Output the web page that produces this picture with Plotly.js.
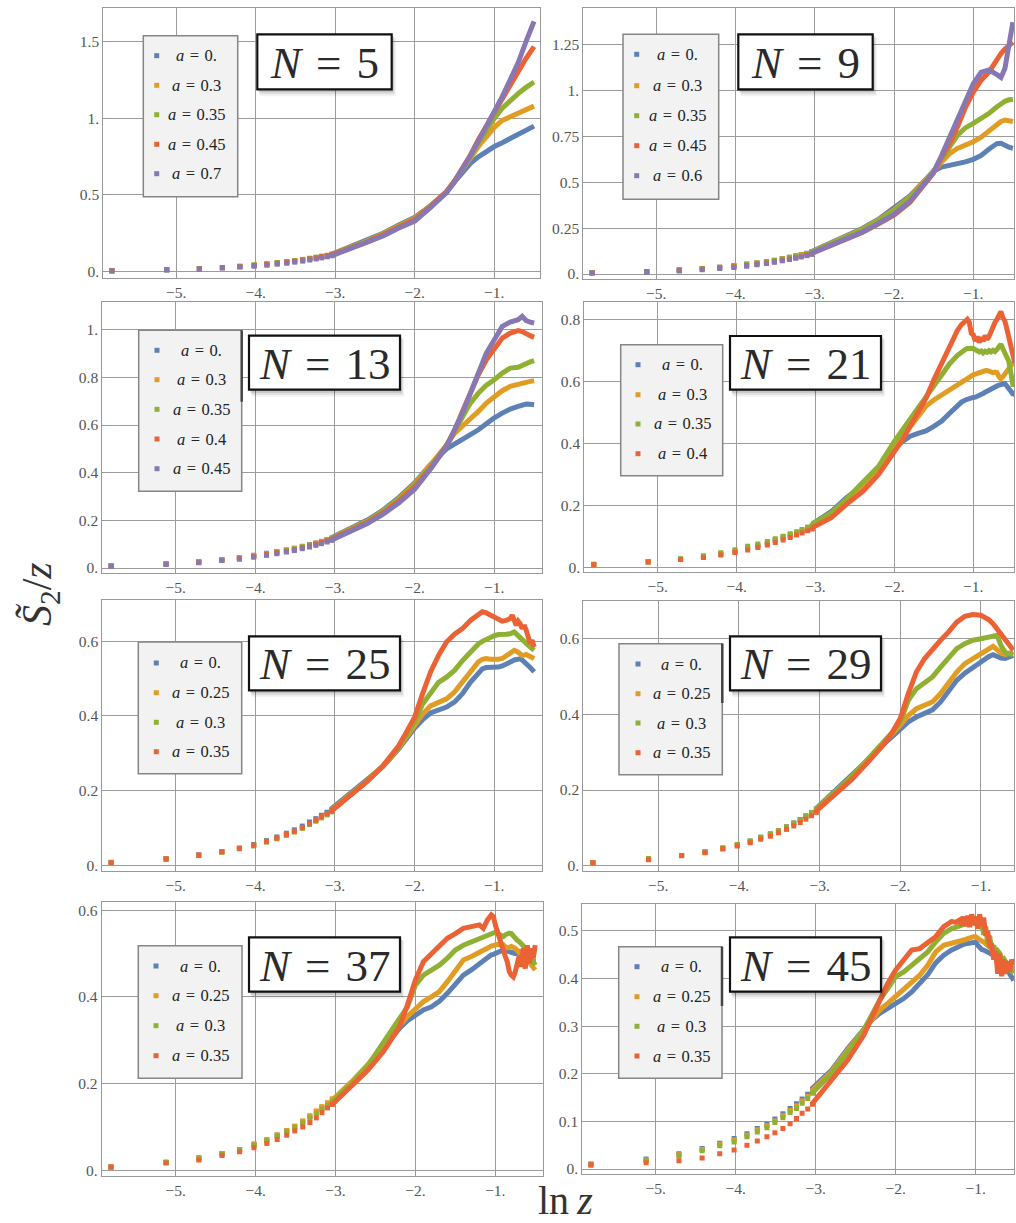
<!DOCTYPE html>
<html>
<head>
<meta charset="utf-8">
<script src="https://cdn.plot.ly/plotly-3.0.1.min.js"></script>
<style>html,body{margin:0;padding:0;background:#fff;}#chart{width:1016px;height:1223px;}</style>
</head>
<body>
<div id="chart"></div>
<script>
// ---------- shared data ----------
const LNZ_SPARSE = [-5.81, -5.12, -4.71, -4.42, -4.20, -4.02, -3.86, -3.73, -3.61, -3.51, -3.41, -3.32, -3.24, -3.17, -3.10, -3.04];
const X_TICKS = [-5, -4, -3, -2, -1];
const X_TICKTEXT = ['\u22125.', '\u22124.', '\u22123.', '\u22122.', '\u22121.'];
const COLORS = ['#5E81B5', '#E19C24', '#8FB032', '#EB6235', '#8778B3'];

// ---------- N = 5 ----------
const N5_A = ['0.', '0.3', '0.35', '0.45', '0.7'];
const N5_YT = [0, 0.5, 1, 1.5];
const N5_YTT = ['0.', '0.5', '1.', '1.5'];
const N5_S0 = [0.006, 0.012, 0.02, 0.027, 0.034, 0.042, 0.049, 0.056, 0.063, 0.07, 0.078, 0.085, 0.092, 0.099, 0.106, 0.113];
const N5_S1 = [0.006, 0.013, 0.021, 0.028, 0.036, 0.044, 0.051, 0.058, 0.065, 0.072, 0.08, 0.087, 0.094, 0.1, 0.107, 0.113];
const N5_S2 = [0.006, 0.013, 0.021, 0.028, 0.036, 0.044, 0.052, 0.059, 0.066, 0.073, 0.08, 0.087, 0.094, 0.1, 0.106, 0.112];
const N5_S3 = [0.006, 0.014, 0.02, 0.026, 0.033, 0.041, 0.048, 0.055, 0.062, 0.069, 0.076, 0.083, 0.09, 0.097, 0.104, 0.11];
const N5_S4 = [0.005, 0.011, 0.018, 0.024, 0.03, 0.036, 0.042, 0.049, 0.055, 0.062, 0.069, 0.076, 0.083, 0.09, 0.097, 0.104];
const N5_X = [-3.04, -2.8, -2.6, -2.4, -2.2, -2.0, -1.8, -1.6, -1.5, -1.4, -1.3, -1.2, -1.1, -1.0, -0.9, -0.8, -0.7, -0.6, -0.5];
const N5_D0 = [0.115, 0.163, 0.202, 0.25, 0.305, 0.355, 0.43, 0.52, 0.585, 0.645, 0.705, 0.748, 0.785, 0.815, 0.84, 0.866, 0.89, 0.92, 0.948];
const N5_D1 = [0.114, 0.16, 0.2, 0.247, 0.302, 0.35, 0.43, 0.522, 0.59, 0.66, 0.74, 0.815, 0.88, 0.94, 0.985, 1.01, 1.035, 1.058, 1.078];
const N5_D2 = [0.113, 0.158, 0.197, 0.244, 0.298, 0.345, 0.428, 0.522, 0.59, 0.665, 0.75, 0.84, 0.925, 0.998, 1.065, 1.118, 1.16, 1.2, 1.235];
const N5_D3 = [0.111, 0.155, 0.193, 0.24, 0.292, 0.34, 0.425, 0.52, 0.59, 0.668, 0.76, 0.86, 0.95, 1.03, 1.12, 1.21, 1.3, 1.39, 1.465];
const N5_D4 = [0.105, 0.15, 0.186, 0.232, 0.284, 0.33, 0.418, 0.515, 0.585, 0.665, 0.755, 0.85, 0.945, 1.035, 1.14, 1.25, 1.36, 1.5, 1.63];

// ---------- N = 9 ----------
const N9_A = ['0.', '0.3', '0.35', '0.45', '0.6'];
const N9_YT = [0, 0.25, 0.5, 0.75, 1, 1.25];
const N9_YTT = ['0.', '0.25', '0.5', '0.75', '1.', '1.25'];
const N9_S0 = [0.007, 0.013, 0.022, 0.029, 0.037, 0.045, 0.053, 0.06, 0.068, 0.075, 0.084, 0.092, 0.099, 0.106, 0.113, 0.121];
const N9_S1 = [0.007, 0.014, 0.022, 0.029, 0.037, 0.045, 0.053, 0.06, 0.067, 0.074, 0.083, 0.091, 0.098, 0.105, 0.112, 0.119];
const N9_S2 = [0.007, 0.013, 0.024, 0.03, 0.037, 0.046, 0.054, 0.06, 0.067, 0.074, 0.082, 0.09, 0.097, 0.104, 0.111, 0.118];
const N9_S3 = [0.006, 0.014, 0.02, 0.027, 0.034, 0.04, 0.047, 0.053, 0.06, 0.067, 0.075, 0.082, 0.089, 0.096, 0.103, 0.11];
const N9_S4 = [0.005, 0.01, 0.017, 0.024, 0.03, 0.036, 0.043, 0.05, 0.057, 0.064, 0.072, 0.079, 0.086, 0.093, 0.1, 0.107];
const N9_X = [-3.04, -2.8, -2.6, -2.4, -2.2, -2.0, -1.8, -1.6, -1.5, -1.4, -1.3, -1.2, -1.1, -1.0, -0.9, -0.8, -0.7, -0.65, -0.6, -0.55, -0.5];
const N9_D0 = [0.122, 0.17, 0.207, 0.248, 0.297, 0.357, 0.425, 0.515, 0.56, 0.582, 0.59, 0.598, 0.61, 0.624, 0.645, 0.68, 0.71, 0.712, 0.7, 0.69, 0.684];
const N9_D1 = [0.12, 0.166, 0.203, 0.244, 0.293, 0.35, 0.42, 0.51, 0.56, 0.61, 0.655, 0.683, 0.7, 0.72, 0.745, 0.78, 0.815, 0.83, 0.838, 0.835, 0.83];
const N9_D2 = [0.118, 0.163, 0.2, 0.24, 0.289, 0.345, 0.415, 0.505, 0.56, 0.62, 0.69, 0.755, 0.795, 0.82, 0.845, 0.875, 0.91, 0.928, 0.94, 0.948, 0.95];
const N9_D3 = [0.112, 0.153, 0.187, 0.226, 0.272, 0.32, 0.39, 0.49, 0.55, 0.635, 0.71, 0.8, 0.905, 0.99, 1.055, 1.1, 1.17, 1.2, 1.225, 1.245, 1.262];
const N9_D4 = [0.114, 0.156, 0.19, 0.229, 0.275, 0.325, 0.395, 0.495, 0.555, 0.645, 0.745, 0.845, 0.945, 1.035, 1.098, 1.11, 1.085, 1.07, 1.12, 1.25, 1.37];

// ---------- N = 13 ----------
const N13_A = ['0.', '0.3', '0.35', '0.4', '0.45'];
const N13_YT = [0, 0.2, 0.4, 0.6, 0.8, 1];
const N13_YTT = ['0.', '0.2', '0.4', '0.6', '0.8', '1.'];
const N13_S0 = [0.008, 0.018, 0.026, 0.035, 0.044, 0.053, 0.062, 0.069, 0.076, 0.083, 0.091, 0.098, 0.105, 0.112, 0.119, 0.126];
const N13_S1 = [0.008, 0.018, 0.026, 0.035, 0.043, 0.052, 0.06, 0.068, 0.075, 0.082, 0.09, 0.097, 0.104, 0.111, 0.118, 0.125];
const N13_S2 = [0.01, 0.017, 0.025, 0.034, 0.042, 0.05, 0.059, 0.066, 0.073, 0.08, 0.088, 0.095, 0.102, 0.109, 0.116, 0.123];
const N13_S3 = [0.007, 0.016, 0.024, 0.033, 0.04, 0.048, 0.057, 0.064, 0.071, 0.078, 0.086, 0.093, 0.1, 0.107, 0.114, 0.12];
const N13_S4 = [0.006, 0.015, 0.022, 0.031, 0.037, 0.045, 0.053, 0.06, 0.067, 0.073, 0.081, 0.088, 0.095, 0.102, 0.109, 0.116];
const N13_X = [-3.04, -2.8, -2.6, -2.4, -2.2, -2.0, -1.8, -1.6, -1.5, -1.4, -1.3, -1.2, -1.1, -1.0, -0.9, -0.8, -0.7, -0.65, -0.6, -0.55, -0.5];
const N13_D0 = [0.128, 0.168, 0.2, 0.242, 0.295, 0.357, 0.434, 0.5, 0.518, 0.538, 0.56, 0.58, 0.608, 0.63, 0.65, 0.667, 0.678, 0.684, 0.688, 0.687, 0.685];
const N13_D1 = [0.126, 0.165, 0.196, 0.238, 0.29, 0.352, 0.43, 0.515, 0.565, 0.594, 0.622, 0.657, 0.692, 0.72, 0.744, 0.762, 0.772, 0.776, 0.78, 0.783, 0.786];
const N13_D2 = [0.125, 0.163, 0.194, 0.236, 0.287, 0.348, 0.426, 0.515, 0.572, 0.636, 0.692, 0.734, 0.767, 0.79, 0.818, 0.839, 0.842, 0.85, 0.86, 0.865, 0.87];
const N13_D3 = [0.122, 0.16, 0.19, 0.23, 0.28, 0.34, 0.42, 0.512, 0.575, 0.657, 0.734, 0.811, 0.874, 0.923, 0.965, 0.986, 0.996, 0.992, 0.986, 0.975, 0.968];
const N13_D4 = [0.118, 0.155, 0.186, 0.225, 0.273, 0.33, 0.415, 0.51, 0.575, 0.65, 0.734, 0.818, 0.902, 0.958, 1.014, 1.032, 1.042, 1.056, 1.038, 1.032, 1.028];

// ---------- N = 21 ----------
const N21_A = ['0.', '0.3', '0.35', '0.4'];
const N21_YT = [0, 0.2, 0.4, 0.6, 0.8];
const N21_YTT = ['0.', '0.2', '0.4', '0.6', '0.8'];
const N21_S0 = [0.01, 0.018, 0.026, 0.034, 0.043, 0.052, 0.062, 0.07, 0.079, 0.088, 0.097, 0.104, 0.111, 0.118, 0.125, 0.132];
const N21_S1 = [0.009, 0.017, 0.025, 0.034, 0.043, 0.051, 0.06, 0.068, 0.077, 0.086, 0.095, 0.102, 0.109, 0.116, 0.123, 0.13];
const N21_S2 = [0.009, 0.018, 0.028, 0.037, 0.047, 0.057, 0.068, 0.075, 0.083, 0.092, 0.1, 0.108, 0.115, 0.122, 0.13, 0.136];
const N21_S3 = [0.008, 0.017, 0.025, 0.032, 0.04, 0.048, 0.056, 0.064, 0.072, 0.08, 0.088, 0.096, 0.104, 0.111, 0.118, 0.124];
const N21_X = [-3.04, -2.8, -2.6, -2.4, -2.2, -2.0, -1.9, -1.8, -1.7, -1.6, -1.5, -1.4, -1.3, -1.2, -1.15, -1.1, -1.075, -1.05, -1.025, -1.0, -0.975, -0.95, -0.925, -0.9, -0.875, -0.85, -0.825, -0.8, -0.775, -0.75, -0.725, -0.7, -0.675, -0.65, -0.625, -0.6, -0.575, -0.55, -0.525, -0.5, -0.475];
const N21_D0 = [0.14, 0.18, 0.226, 0.262, 0.318, 0.385, 0.405, 0.423, 0.432, 0.44, 0.455, 0.472, 0.497, 0.523, 0.533, 0.54, 0.543, 0.545, 0.546, 0.548, 0.549, 0.551, 0.554, 0.557, 0.561, 0.565, 0.569, 0.573, 0.577, 0.581, 0.584, 0.585, 0.588, 0.59, 0.595, 0.593, 0.585, 0.575, 0.565, 0.56, 0.558];
const N21_D1 = [0.136, 0.172, 0.218, 0.258, 0.315, 0.39, 0.42, 0.455, 0.49, 0.52, 0.54, 0.556, 0.572, 0.59, 0.6, 0.608, 0.612, 0.616, 0.619, 0.621, 0.623, 0.626, 0.628, 0.63, 0.632, 0.634, 0.635, 0.632, 0.63, 0.628, 0.63, 0.628, 0.615, 0.608, 0.615, 0.625, 0.632, 0.638, 0.648, 0.658, 0.66];
const N21_D2 = [0.14, 0.176, 0.222, 0.272, 0.326, 0.406, 0.442, 0.48, 0.52, 0.556, 0.592, 0.626, 0.657, 0.684, 0.695, 0.703, 0.706, 0.708, 0.707, 0.706, 0.702, 0.7, 0.695, 0.698, 0.692, 0.697, 0.694, 0.699, 0.695, 0.7, 0.696, 0.703, 0.715, 0.72, 0.705, 0.69, 0.68, 0.665, 0.63, 0.59, 0.59];
const N21_D3 = [0.128, 0.16, 0.205, 0.245, 0.3, 0.37, 0.41, 0.455, 0.5, 0.545, 0.605, 0.66, 0.712, 0.765, 0.783, 0.797, 0.8, 0.79, 0.755, 0.75, 0.73, 0.745, 0.725, 0.742, 0.73, 0.748, 0.735, 0.745, 0.762, 0.775, 0.79, 0.8, 0.815, 0.825, 0.805, 0.795, 0.77, 0.745, 0.72, 0.68, 0.66];

// ---------- N = 25 ----------
const N25_A = ['0.', '0.25', '0.3', '0.35'];
const N25_YT = [0, 0.2, 0.4, 0.6];
const N25_YTT = ['0.', '0.2', '0.4', '0.6'];
const N25_S0 = [0.008, 0.018, 0.028, 0.037, 0.046, 0.056, 0.066, 0.076, 0.086, 0.095, 0.105, 0.116, 0.125, 0.134, 0.142, 0.15];
const N25_S1 = [0.007, 0.017, 0.027, 0.036, 0.045, 0.054, 0.064, 0.073, 0.083, 0.091, 0.101, 0.112, 0.121, 0.13, 0.138, 0.146];
const N25_S2 = [0.007, 0.016, 0.026, 0.035, 0.044, 0.052, 0.062, 0.071, 0.08, 0.089, 0.099, 0.109, 0.118, 0.127, 0.135, 0.143];
const N25_S3 = [0.007, 0.017, 0.027, 0.036, 0.045, 0.054, 0.064, 0.073, 0.083, 0.091, 0.101, 0.112, 0.121, 0.13, 0.138, 0.146];
const N25_X = [-3.04, -2.8, -2.6, -2.4, -2.2, -2.1, -2.0, -1.9, -1.8, -1.7, -1.6, -1.5, -1.4, -1.3, -1.2, -1.15, -1.1, -1.05, -1.0, -0.95, -0.9, -0.85, -0.8, -0.775, -0.75, -0.725, -0.7, -0.675, -0.65, -0.625, -0.6, -0.575, -0.55, -0.525, -0.5];
const N25_D0 = [0.152, 0.194, 0.227, 0.264, 0.312, 0.342, 0.368, 0.39, 0.408, 0.416, 0.424, 0.437, 0.46, 0.49, 0.517, 0.526, 0.53, 0.53, 0.529, 0.531, 0.534, 0.538, 0.544, 0.547, 0.55, 0.552, 0.554, 0.553, 0.55, 0.546, 0.541, 0.536, 0.53, 0.524, 0.518];
const N25_D1 = [0.149, 0.19, 0.226, 0.265, 0.314, 0.345, 0.375, 0.405, 0.427, 0.435, 0.446, 0.464, 0.49, 0.52, 0.545, 0.552, 0.554, 0.552, 0.551, 0.552, 0.554, 0.56, 0.567, 0.572, 0.576, 0.574, 0.571, 0.566, 0.562, 0.563, 0.565, 0.562, 0.558, 0.556, 0.554];
const N25_D2 = [0.147, 0.189, 0.225, 0.265, 0.316, 0.35, 0.384, 0.432, 0.463, 0.49, 0.504, 0.522, 0.548, 0.573, 0.593, 0.6, 0.606, 0.611, 0.615, 0.618, 0.62, 0.619, 0.62, 0.622, 0.625, 0.62, 0.616, 0.61, 0.607, 0.6, 0.594, 0.59, 0.585, 0.58, 0.576];
const N25_D3 = [0.146, 0.188, 0.224, 0.266, 0.32, 0.358, 0.397, 0.46, 0.518, 0.562, 0.598, 0.619, 0.634, 0.656, 0.674, 0.679, 0.676, 0.67, 0.667, 0.661, 0.654, 0.656, 0.661, 0.67, 0.652, 0.643, 0.654, 0.647, 0.634, 0.643, 0.63, 0.612, 0.594, 0.603, 0.585];

// ---------- N = 29 ----------
const N29_A = ['0.', '0.25', '0.3', '0.35'];
const N29_YT = [0, 0.2, 0.4, 0.6];
const N29_YTT = ['0.', '0.2', '0.4', '0.6'];
const N29_S0 = [0.008, 0.018, 0.027, 0.037, 0.047, 0.056, 0.065, 0.075, 0.084, 0.093, 0.103, 0.113, 0.122, 0.132, 0.141, 0.15];
const N29_S1 = [0.008, 0.018, 0.027, 0.036, 0.046, 0.055, 0.064, 0.074, 0.083, 0.092, 0.102, 0.112, 0.121, 0.131, 0.14, 0.149];
const N29_S2 = [0.008, 0.019, 0.027, 0.036, 0.046, 0.056, 0.065, 0.075, 0.084, 0.093, 0.102, 0.112, 0.121, 0.131, 0.14, 0.149];
const N29_S3 = [0.008, 0.016, 0.026, 0.034, 0.044, 0.052, 0.061, 0.07, 0.078, 0.087, 0.096, 0.105, 0.114, 0.123, 0.132, 0.141];
const N29_X = [-3.04, -2.8, -2.6, -2.4, -2.2, -2.1, -2.0, -1.9, -1.8, -1.7, -1.6, -1.5, -1.4, -1.3, -1.2, -1.1, -1.0, -0.9, -0.85, -0.8, -0.75, -0.7, -0.65, -0.6];
const N29_D0 = [0.152, 0.2, 0.236, 0.28, 0.322, 0.342, 0.362, 0.38, 0.393, 0.402, 0.412, 0.433, 0.463, 0.49, 0.509, 0.525, 0.538, 0.553, 0.558, 0.553, 0.549, 0.548, 0.553, 0.556];
const N29_D1 = [0.15, 0.198, 0.235, 0.28, 0.324, 0.347, 0.371, 0.397, 0.415, 0.424, 0.433, 0.455, 0.485, 0.512, 0.534, 0.547, 0.559, 0.574, 0.58, 0.571, 0.562, 0.558, 0.562, 0.565];
const N29_D2 = [0.15, 0.198, 0.236, 0.282, 0.327, 0.352, 0.38, 0.437, 0.468, 0.485, 0.499, 0.525, 0.552, 0.574, 0.587, 0.596, 0.6, 0.603, 0.606, 0.609, 0.582, 0.564, 0.56, 0.558];
const N29_D3 = [0.145, 0.192, 0.228, 0.274, 0.322, 0.352, 0.389, 0.455, 0.512, 0.547, 0.574, 0.596, 0.618, 0.644, 0.659, 0.664, 0.662, 0.65, 0.64, 0.626, 0.613, 0.6, 0.582, 0.57];

// ---------- N = 37 ----------
const N37_A = ['0.', '0.25', '0.3', '0.35'];
const N37_YT = [0, 0.2, 0.4, 0.6];
const N37_YTT = ['0.', '0.2', '0.4', '0.6'];
const N37_S0 = [0.008, 0.018, 0.029, 0.039, 0.048, 0.06, 0.07, 0.081, 0.091, 0.101, 0.112, 0.124, 0.135, 0.145, 0.154, 0.162];
const N37_S1 = [0.008, 0.018, 0.028, 0.039, 0.048, 0.061, 0.071, 0.082, 0.092, 0.102, 0.114, 0.126, 0.137, 0.147, 0.156, 0.165];
const N37_S2 = [0.008, 0.019, 0.027, 0.038, 0.047, 0.058, 0.068, 0.079, 0.089, 0.098, 0.109, 0.12, 0.131, 0.141, 0.15, 0.158];
const N37_S3 = [0.008, 0.017, 0.024, 0.034, 0.043, 0.052, 0.062, 0.071, 0.081, 0.091, 0.1, 0.11, 0.121, 0.133, 0.144, 0.152];
const N37_X = [-3.04, -2.8, -2.6, -2.4, -2.2, -2.1, -2.0, -1.9, -1.8, -1.7, -1.6, -1.5, -1.4, -1.3, -1.2, -1.15, -1.1, -1.05, -1.025, -1.0, -0.975, -0.95, -0.925, -0.9, -0.875, -0.85, -0.825, -0.8, -0.775, -0.75, -0.725, -0.7, -0.675, -0.65, -0.625, -0.6, -0.575, -0.55, -0.525, -0.5];
const N37_D0 = [0.16, 0.2, 0.24, 0.285, 0.327, 0.345, 0.358, 0.37, 0.377, 0.39, 0.408, 0.431, 0.45, 0.462, 0.477, 0.485, 0.493, 0.497, 0.498, 0.5, 0.502, 0.505, 0.507, 0.508, 0.507, 0.506, 0.505, 0.504, 0.502, 0.5, 0.502, 0.504, 0.5, 0.498, 0.495, 0.493, 0.489, 0.485, 0.483, 0.481];
const N37_D1 = [0.162, 0.204, 0.243, 0.29, 0.333, 0.355, 0.373, 0.389, 0.4, 0.412, 0.435, 0.462, 0.485, 0.493, 0.504, 0.508, 0.512, 0.517, 0.519, 0.521, 0.521, 0.52, 0.52, 0.52, 0.516, 0.513, 0.514, 0.516, 0.514, 0.512, 0.506, 0.5, 0.498, 0.496, 0.49, 0.485, 0.479, 0.473, 0.468, 0.462];
const N37_D2 = [0.158, 0.2, 0.24, 0.297, 0.35, 0.377, 0.427, 0.45, 0.462, 0.473, 0.489, 0.508, 0.519, 0.527, 0.535, 0.54, 0.544, 0.547, 0.548, 0.549, 0.546, 0.544, 0.541, 0.539, 0.543, 0.546, 0.547, 0.546, 0.54, 0.535, 0.53, 0.527, 0.523, 0.519, 0.514, 0.508, 0.498, 0.489, 0.48, 0.473];
const N37_D3 = [0.152, 0.196, 0.23, 0.274, 0.331, 0.381, 0.439, 0.481, 0.5, 0.519, 0.535, 0.546, 0.558, 0.562, 0.566, 0.558, 0.577, 0.589, 0.585, 0.566, 0.55, 0.535, 0.519, 0.504, 0.493, 0.481, 0.458, 0.45, 0.446, 0.458, 0.473, 0.496, 0.469, 0.512, 0.465, 0.519, 0.477, 0.512, 0.489, 0.519];

// ---------- N = 45 ----------
const N45_A = ['0.', '0.25', '0.3', '0.35'];
const N45_YT = [0, 0.1, 0.2, 0.3, 0.4, 0.5];
const N45_YTT = ['0.', '0.1', '0.2', '0.3', '0.4', '0.5'];
const N45_S0 = [0.0105, 0.021, 0.032, 0.043, 0.054, 0.064, 0.074, 0.085, 0.094, 0.105, 0.116, 0.127, 0.137, 0.147, 0.157, 0.168];
const N45_S1 = [0.01, 0.019, 0.03, 0.041, 0.052, 0.061, 0.071, 0.082, 0.091, 0.101, 0.112, 0.123, 0.133, 0.143, 0.153, 0.164];
const N45_S2 = [0.008, 0.018, 0.028, 0.0385, 0.049, 0.057, 0.068, 0.078, 0.087, 0.098, 0.108, 0.119, 0.127, 0.138, 0.148, 0.159];
const N45_S3 = [0.009, 0.013, 0.0175, 0.023, 0.032, 0.04, 0.05, 0.059, 0.068, 0.076, 0.085, 0.095, 0.106, 0.117, 0.126, 0.136];
const N45_X = [-3.04, -2.8, -2.6, -2.4, -2.3, -2.2, -2.1, -2.0, -1.9, -1.8, -1.7, -1.6, -1.5, -1.4, -1.3, -1.25, -1.2, -1.175, -1.15, -1.125, -1.1, -1.075, -1.05, -1.025, -1.0, -0.975, -0.95, -0.925, -0.9, -0.875, -0.85, -0.825, -0.8, -0.775, -0.75, -0.725, -0.7, -0.675, -0.65, -0.625, -0.6, -0.575, -0.55, -0.525];
const N45_D0 = [0.17, 0.208, 0.253, 0.295, 0.313, 0.327, 0.337, 0.348, 0.358, 0.372, 0.39, 0.408, 0.433, 0.449, 0.46, 0.465, 0.47, 0.471, 0.472, 0.473, 0.474, 0.475, 0.476, 0.477, 0.477, 0.47, 0.464, 0.461, 0.46, 0.458, 0.456, 0.455, 0.453, 0.451, 0.449, 0.445, 0.44, 0.435, 0.43, 0.425, 0.421, 0.41, 0.4, 0.396];
const N45_D1 = [0.166, 0.205, 0.25, 0.294, 0.316, 0.334, 0.348, 0.362, 0.376, 0.39, 0.407, 0.428, 0.456, 0.47, 0.474, 0.476, 0.477, 0.479, 0.48, 0.482, 0.484, 0.486, 0.487, 0.488, 0.488, 0.484, 0.481, 0.479, 0.477, 0.474, 0.47, 0.466, 0.462, 0.458, 0.454, 0.45, 0.447, 0.443, 0.44, 0.436, 0.432, 0.428, 0.424, 0.42];
const N45_D2 = [0.16, 0.201, 0.246, 0.292, 0.323, 0.355, 0.379, 0.404, 0.414, 0.427, 0.442, 0.456, 0.477, 0.495, 0.505, 0.507, 0.509, 0.512, 0.515, 0.52, 0.523, 0.525, 0.522, 0.527, 0.526, 0.518, 0.512, 0.52, 0.492, 0.51, 0.474, 0.49, 0.46, 0.47, 0.452, 0.458, 0.453, 0.44, 0.442, 0.435, 0.43, 0.425, 0.415, 0.412];
const N45_D3 = [0.138, 0.187, 0.229, 0.281, 0.318, 0.358, 0.39, 0.418, 0.439, 0.46, 0.463, 0.477, 0.488, 0.509, 0.52, 0.518, 0.523, 0.512, 0.53, 0.51, 0.532, 0.508, 0.535, 0.512, 0.53, 0.505, 0.535, 0.51, 0.528, 0.49, 0.5, 0.47, 0.47, 0.44, 0.458, 0.41, 0.453, 0.405, 0.44, 0.41, 0.436, 0.415, 0.44, 0.428];

// ---------- layout geometry (pixels) ----------
const W = 1016, H = 1223;
const PANELS = [
  {n: '5',  a: N5_A,  yt: N5_YT,  ytt: N5_YTT,  xd: N5_X,  sp: [N5_S0, N5_S1, N5_S2, N5_S3, N5_S4],  de: [N5_D0, N5_D1, N5_D2, N5_D3, N5_D4],
   px: [103.3, 8.3, 540, 278], xr: [-5.918, -0.425], yr: [-0.041, 1.715],
   lg: [143.3, 35.7, 237.7, 196.7], lmx: 156.7, ltx: 196.7, ly: [55.7, 85.3, 114.7, 144.3, 173.7], nb: [257.3, 34.3, 391.7, 89.3]},
  {n: '9',  a: N9_A,  yt: N9_YT,  ytt: N9_YTT,  xd: N9_X,  sp: [N9_S0, N9_S1, N9_S2, N9_S3, N9_S4],  de: [N9_D0, N9_D1, N9_D2, N9_D3, N9_D4],
   px: [583.3, 8.3, 1014, 279], xr: [-5.921, -0.486], yr: [-0.027, 1.446],
   lg: [623, 34.3, 718.7, 199.3], lmx: 636.7, ltx: 677.3, ly: [54.3, 85.7, 115.7, 145.7, 175.7], nb: [738.3, 34.3, 872.7, 89.3]},
  {n: '13', a: N13_A, yt: N13_YT, ytt: N13_YTT, xd: N13_X, sp: [N13_S0, N13_S1, N13_S2, N13_S3, N13_S4], de: [N13_D0, N13_D1, N13_D2, N13_D3, N13_D4],
   px: [102.3, 302.3, 541.7, 573], xr: [-5.921, -0.405], yr: [-0.021, 1.115],
   lg: [138.7, 330.3, 241.7, 491.3], lmx: 157, ltx: 201, ly: [350.3, 379.7, 409.3, 439, 468.7], nb: [249, 335.7, 400, 389.7], bar: [241.7, 330.3, 401.7]},
  {n: '21', a: N21_A, yt: N21_YT, ytt: N21_YTT, xd: N21_X, sp: [N21_S0, N21_S1, N21_S2, N21_S3], de: [N21_D0, N21_D1, N21_D2, N21_D3],
   px: [584.3, 302.3, 1014, 572.3], xr: [-5.93, -0.484], yr: [-0.016, 0.855],
   lg: [620.7, 344.7, 722.7, 475.7], lmx: 638, ltx: 682.3, ly: [364.7, 394.7, 424, 453.7], nb: [730, 336, 881, 389.7]},
  {n: '25', a: N25_A, yt: N25_YT, ytt: N25_YTT, xd: N25_X, sp: [N25_S0, N25_S1, N25_S2, N25_S3], de: [N25_D0, N25_D1, N25_D2, N25_D3],
   px: [102.3, 599.7, 541.7, 871], xr: [-5.921, -0.405], yr: [-0.0153, 0.7115],
   lg: [138.3, 642, 241.7, 773.7], lmx: 156.3, ltx: 200.7, ly: [663, 692.7, 722.3, 751.7], nb: [249, 636.3, 400, 690.3]},
  {n: '29', a: N29_A, yt: N29_YT, ytt: N29_YTT, xd: N29_X, sp: [N29_S0, N29_S1, N29_S2, N29_S3], de: [N29_D0, N29_D1, N29_D2, N29_D3],
   px: [583.3, 601.3, 1014, 871], xr: [-5.929, -0.59], yr: [-0.014, 0.699],
   lg: [619, 643.7, 722.3, 774.7], lmx: 638, ltx: 681.7, ly: [664, 693.7, 723, 752.7], nb: [730, 636.3, 881, 690.3], bar: [722.3, 643.7, 703]},
  {n: '37', a: N37_A, yt: N37_YT, ytt: N37_YTT, xd: N37_X, sp: [N37_S0, N37_S1, N37_S2, N37_S3], de: [N37_D0, N37_D1, N37_D2, N37_D3],
   px: [101.7, 902.3, 542.7, 1176], xr: [-5.926, -0.407], yr: [-0.013, 0.618],
   lg: [138.3, 945.7, 242, 1078.3], lmx: 156, ltx: 200.7, ly: [966, 995.7, 1025.7, 1055.7], nb: [249, 937.3, 400, 991.7]},
  {n: '45', a: N45_A, yt: N45_YT, ytt: N45_YTT, xd: N45_X, sp: [N45_S0, N45_S1, N45_S2, N45_S3], de: [N45_D0, N45_D1, N45_D2, N45_D3],
   px: [582.3, 904.3, 1014, 1174.3], xr: [-5.918, -0.521], yr: [-0.011, 0.556],
   lg: [618.7, 946.7, 722, 1078.3], lmx: 637, ltx: 681, ly: [966.7, 996.7, 1026.3, 1056], nb: [730, 937.3, 881, 991.7], bar: [722, 946.7, 1006]}
];

const SERIF = 'Liberation Serif';
const fx = v => v / W;
const fy = v => 1 - v / H;

const traces = [];
const shapes = [];
const annotations = [];
const layout = {
  width: W, height: H,
  margin: {l: 0, r: 0, t: 0, b: 0},
  paper_bgcolor: '#ffffff', plot_bgcolor: '#ffffff',
  showlegend: false,
  hovermode: false,
  font: {family: SERIF}
};

PANELS.forEach((p, i) => {
  const k = i + 1;
  const xa = k === 1 ? 'x' : 'x' + k;
  const ya = k === 1 ? 'y' : 'y' + k;
  const xk = k === 1 ? 'xaxis' : 'xaxis' + k;
  const yk = k === 1 ? 'yaxis' : 'yaxis' + k;
  const common = {
    showgrid: true, gridcolor: '#9c9c9c', gridwidth: 1,
    showline: true, mirror: true, linecolor: '#999999', linewidth: 1,
    ticks: 'inside', ticklen: 4, tickcolor: '#999999',
    zeroline: false, fixedrange: true,
    tickfont: {family: SERIF, size: 15.5, color: '#555'}
  };
  layout[xk] = Object.assign({}, common, {
    domain: [fx(p.px[0]), fx(p.px[2])], range: p.xr, anchor: ya,
    tickmode: 'array', tickvals: X_TICKS, ticktext: X_TICKTEXT
  });
  layout[yk] = Object.assign({}, common, {
    domain: [fy(p.px[3]), fy(p.px[1])], range: p.yr, anchor: xa,
    tickmode: 'array', tickvals: p.yt, ticktext: p.ytt
  });

  p.sp.forEach((ys, j) => {
    traces.push({
      type: 'scatter', mode: 'markers', x: LNZ_SPARSE, y: ys, xaxis: xa, yaxis: ya,
      marker: {symbol: 'square', size: 5, color: COLORS[j], line: {width: 0}}
    });
    traces.push({
      type: 'scatter', mode: 'lines', x: p.xd, y: p.de[j], xaxis: xa, yaxis: ya,
      line: {color: COLORS[j], width: 5}
    });
  });

  // legend box
  shapes.push({type: 'rect', xref: 'paper', yref: 'paper', layer: 'above',
    x0: fx(p.lg[0]), x1: fx(p.lg[2]), y0: fy(p.lg[3]), y1: fy(p.lg[1]),
    fillcolor: '#f2f2f2', line: {color: '#858585', width: 1.5}});
  if (p.bar) {
    shapes.push({type: 'line', xref: 'paper', yref: 'paper', layer: 'above',
      x0: fx(p.bar[0]), x1: fx(p.bar[0]), y0: fy(p.bar[1]), y1: fy(p.bar[2]),
      line: {color: '#444', width: 2.5}});
  }
  p.a.forEach((lab, j) => {
    shapes.push({type: 'rect', xref: 'paper', yref: 'paper', layer: 'above',
      x0: fx(p.lmx - 2.5), x1: fx(p.lmx + 2.5), y0: fy(p.ly[j] + 2.5), y1: fy(p.ly[j] - 2.5),
      fillcolor: COLORS[j], line: {width: 0}});
    annotations.push({xref: 'paper', yref: 'paper', x: fx(p.ltx), y: fy(p.ly[j]),
      xanchor: 'center', yanchor: 'middle', showarrow: false,
      text: '<i>a</i>\u2004=\u2004' + lab, font: {family: SERIF, size: 16.5, color: '#222'}});
  });

  // N box with soft shadow
  const b = p.nb;
  [[7, 0.05], [5, 0.08], [3, 0.12]].forEach(([o, op]) => {
    shapes.push({type: 'rect', xref: 'paper', yref: 'paper', layer: 'above',
      x0: fx(b[0] + o * 0.4), x1: fx(b[2] + o * 0.6), y0: fy(b[3] + o), y1: fy(b[1] + o * 0.5),
      fillcolor: 'rgba(0,0,0,' + op + ')', line: {width: 0}});
  });
  shapes.push({type: 'rect', xref: 'paper', yref: 'paper', layer: 'above',
    x0: fx(b[0]), x1: fx(b[2]), y0: fy(b[3]), y1: fy(b[1]),
    fillcolor: '#ffffff', line: {color: '#111', width: 2.2}});
  annotations.push({xref: 'paper', yref: 'paper', x: fx((b[0] + b[2]) / 2), y: fy((b[1] + b[3]) / 2 + 1),
    xanchor: 'center', yanchor: 'middle', showarrow: false,
    text: '<i>N</i>\u2004=\u2004' + p.n, font: {family: SERIF, size: 45, color: '#2a2a2a'}});
});

// global axis labels
annotations.push({xref: 'paper', yref: 'paper', x: fx(40), y: fy(594), xanchor: 'center', yanchor: 'middle',
  showarrow: false, textangle: -90,
  text: '<i>S\u0303</i><sub>2</sub>/<i>z</i>', font: {family: SERIF, size: 42, color: '#333'}});
annotations.push({xref: 'paper', yref: 'paper', x: fx(565), y: fy(1200), xanchor: 'center', yanchor: 'middle',
  showarrow: false, text: 'ln\u2009<i>z</i>', font: {family: SERIF, size: 40, color: '#333'}});

layout.shapes = shapes;
layout.annotations = annotations;

Plotly.newPlot('chart', traces, layout, {staticPlot: true, displayModeBar: false});
</script>
</body>
</html>
